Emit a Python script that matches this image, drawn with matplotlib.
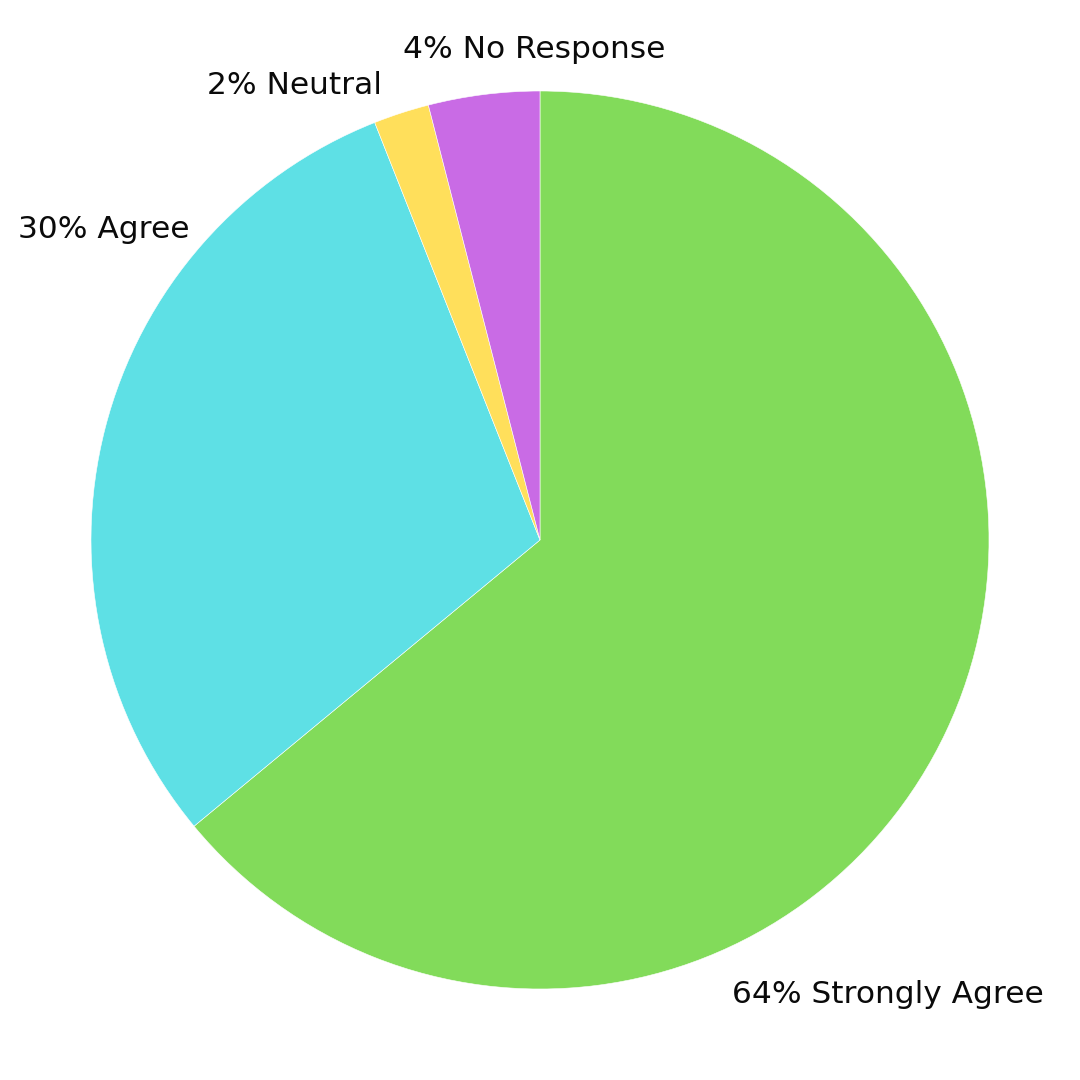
import matplotlib
matplotlib.use("Agg")
import matplotlib.pyplot as plt

categories = ["Strongly Agree", "Agree", "Neutral", "No Response"]
values = [64, 30, 2, 4]
colors = ["#82DB5A", "#5EE0E5", "#FFDF5B", "#C96BE5"]

# label placement (data coords, radius = 1) and alignment
label_pos = [(0.4276, -1.031), (-0.7817, 0.6726), (-0.352, 0.9933), (-0.305, 1.0735)]
label_ha = ["left", "right", "right", "left"]

plt.rcParams['font.family'] = ['DejaVu Sans']

fig = plt.figure(figsize=(10.8, 10.8), dpi=100)
ax = fig.add_axes([0, 0, 1, 1])
ax.pie(values, colors=colors, startangle=90, counterclock=False,
       wedgeprops=dict(edgecolor="white", linewidth=0.4))
lim = 540 / 449
ax.set_xlim(-lim, lim)
ax.set_ylim(-lim, lim)
ax.set_aspect("equal")
ax.axis("off")

for cat, v, (x, y), ha in zip(categories, values, label_pos, label_ha):
    ax.text(x, y, f"{v}% {cat}", ha=ha, va="baseline", fontsize=22.5, color="#0a0a0a")

fig.savefig("out.png", dpi=100, facecolor="white")
